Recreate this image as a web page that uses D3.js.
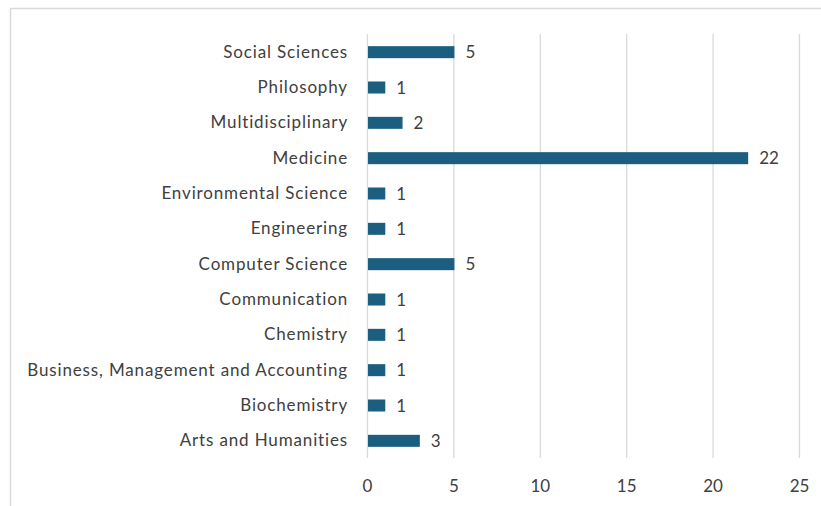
<!DOCTYPE html>
<html>
<head>
<meta charset="UTF-8">
<style>
  body { margin: 0; background: #fff; }
  .cat text, .val, .tick text { font-family: Lato, "Open Sans", sans-serif; font-size: 17px; fill: #404040; }
  .cat text { letter-spacing: 0.85px; }
  .grid line { stroke: #d9d9d9; stroke-width: 1.3px; }
</style>
</head>
<body>
<svg class="chart" width="821" height="506"></svg>
<script src="https://d3js.org/d3.v7.min.js"></script>
<script>
// categories listed top to bottom as in the picture
var categories = ["Social Sciences", "Philosophy", "Multidisciplinary", "Medicine",
  "Environmental Science", "Engineering", "Computer Science", "Communication",
  "Chemistry", "Business, Management and Accounting", "Biochemistry", "Arts and Humanities"];
var counts = [5, 1, 2, 22, 1, 1, 5, 1, 1, 1, 1, 3];
var xTicks = [0, 5, 10, 15, 20, 25];

var svg = d3.select(".chart");

// outer frame (only top and left edges show)
svg.append("line").attr("x1", 10).attr("x2", 821).attr("y1", 8.5).attr("y2", 8.5)
  .attr("stroke", "#d9d9d9").attr("stroke-width", 1.5);
svg.append("line").attr("x1", 10.5).attr("x2", 10.5).attr("y1", 8).attr("y2", 506)
  .attr("stroke", "#d9d9d9").attr("stroke-width", 1.5);

var x = d3.scaleLinear().domain([0, 25]).range([367, 799]);
var y = d3.scaleBand().domain(categories).range([34.5, 458.5]).paddingInner(0.66).paddingOuter(0.33);

// vertical gridlines
svg.append("g").attr("class", "grid")
  .selectAll("line").data(xTicks).join("line")
  .attr("x1", d => x(d) + 0.5).attr("x2", d => x(d) + 0.5)
  .attr("y1", 34).attr("y2", 458);

// bars
svg.append("g").selectAll("rect").data(categories).join("rect")
  .attr("x", x(0) + 1)
  .attr("y", d => y(d))
  .attr("width", (d, i) => x(counts[i]) - x(0))
  .attr("height", y.bandwidth())
  .attr("fill", "#1b5e7f");

// value labels
svg.append("g").selectAll("text").data(categories).join("text")
  .attr("class", "val")
  .attr("x", (d, i) => x(counts[i]) + 12)
  .attr("y", d => y(d) + y.bandwidth() / 2)
  .attr("dy", "0.36em")
  .text((d, i) => counts[i]);

// category axis
var yAxis = svg.append("g").attr("class", "cat")
  .attr("transform", "translate(348,0)")
  .call(d3.axisLeft(y).tickSize(0).tickPadding(0));
yAxis.select(".domain").remove();

// value axis
var xAxis = svg.append("g")
  .attr("transform", "translate(0,472)")
  .call(d3.axisBottom(x).tickValues(xTicks).tickSize(0).tickPadding(8));
xAxis.select(".domain").remove();
</script>
</body>
</html>
